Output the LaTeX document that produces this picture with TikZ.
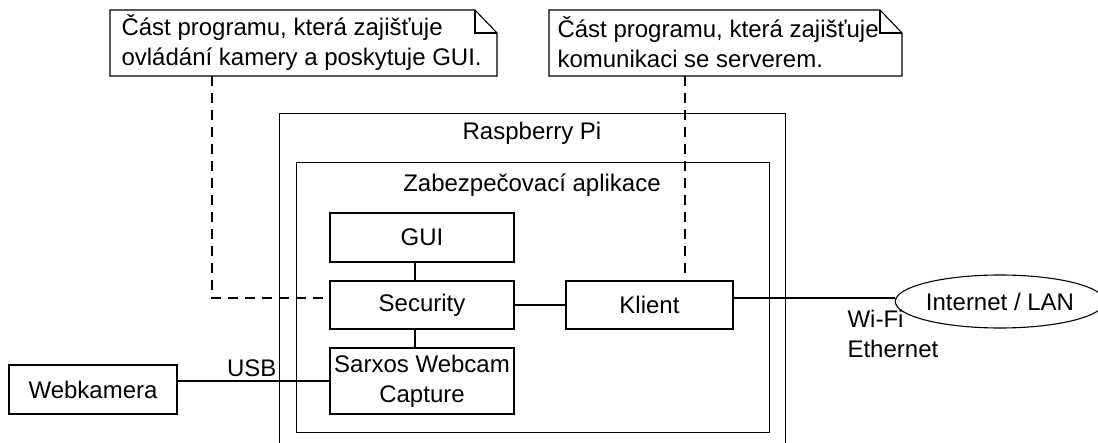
\documentclass[tikz,border=0pt]{standalone}
\usepackage{fontspec}
\setmainfont{Liberation Sans}
\usetikzlibrary{shapes.geometric}
\begin{document}
\begin{tikzpicture}[x=1pt,y=-1pt,line width=1.1pt,
  every node/.style={font=\fontsize{24}{30}\selectfont},
  box/.style={draw,rectangle,inner sep=0pt,align=center},
  txt/.style={inner sep=0pt},
  notelink/.style={dashed,dash pattern=on 10pt off 7pt}]
\useasboundingbox (0,0) rectangle (1098,443);
% containers
\begin{scope}
\clip (0,0) rectangle (1098,443);
\node[draw,rectangle,minimum width=506pt,minimum height=360pt,anchor=north west,inner sep=0pt] (rpi) at (279,113) {};
\end{scope}
\node[draw,rectangle,minimum width=473pt,minimum height=270pt,anchor=north west,inner sep=0pt] (app) at (296,162) {};
\node[txt] (rpilbl) at (532,133) {Raspberry Pi};
\node[txt] (applbl) at (532,185) {Zabezpečovací aplikace};
% components
\node[box,minimum width=184pt,minimum height=49pt] (GUI) at (422,237.5) {GUI};
\node[box,minimum width=184pt,minimum height=48pt] (Security) at (422,305) {Security};
\node[box,minimum width=167pt,minimum height=48pt] (Klient) at (649.5,305) {Klient};
\node[box,minimum width=184pt,minimum height=66pt] (Sarxos) at (422,381) {Sarxos Webcam\\Capture};
\node[box,minimum width=168pt,minimum height=49pt] (Webkamera) at (93,389.5) {Webkamera};
\node[draw,ellipse,minimum width=194pt,minimum height=53pt,inner sep=0pt] (inet) at (1000,301.5) {Internet / LAN};
% connectors
\draw ([xshift=-7pt]GUI.south) -- ([xshift=-7pt]Security.north);
\draw ([xshift=-7pt]Security.south) -- ([xshift=-7pt]Sarxos.north);
\draw (Security.east) -- (Klient.west);
\draw ([yshift=7pt]Klient.east) -- ([yshift=3.5pt]inet.west);
\draw (Sarxos.west) -- (Sarxos.west -| Webkamera.east);
\node[txt,anchor=east] (usb) at (277,368) {USB};
\node[txt,anchor=north west,align=left] (wifi) at (847,310) {Wi-Fi\\Ethernet};
% notes
\draw (110,10) -- (475,10) -- (497,33) -- (497,76) -- (110,76) -- cycle;
\draw (475,10) -- (475,33) -- (497,33);
\node[txt,anchor=west,align=left] (note1) at (121,42.5) {Část programu, která zajišťuje\\ovládání kamery a poskytuje GUI.};
\coordinate (n1b) at (212,76);
\draw (549,10) -- (880,10) -- (902,33) -- (902,76) -- (549,76) -- cycle;
\draw (880,10) -- (880,33) -- (902,33);
\node[txt,anchor=west,align=left] (note2) at (557,42.5) {Část programu, která zajišťuje\\komunikaci se serverem.};
\coordinate (n2b) at (685,76);
\draw[notelink] (n1b) |- ([yshift=7pt]Security.west);
\draw[notelink] (n2b) -- (n2b |- Klient.north);
\end{tikzpicture}
\end{document}
